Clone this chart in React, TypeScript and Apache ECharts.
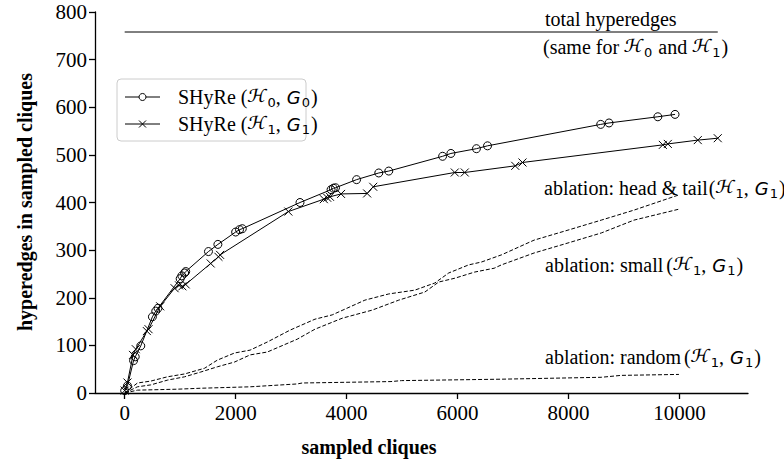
import React, { useEffect, useRef } from "react";
import * as echarts from "echarts";

// ---- data ----
const xTicks = [0, 2000, 4000, 6000, 8000, 10000];
const totalHyperedges = 758;
const totalLineX = [0, 10690];

const shyreH0: [number, number][] = [
  [0, 5], [50, 15], [160, 68], [190, 76], [290, 99], [500, 160], [560, 172], [600, 178],
  [1000, 240], [1030, 246], [1080, 252], [1100, 255], [1510, 297], [1680, 312], [2000, 338],
  [2070, 343], [2120, 345], [3160, 400], [3720, 427], [3760, 430], [3800, 431], [4180, 448],
  [4580, 462], [4760, 466], [5730, 497], [5880, 503], [6340, 513], [6540, 519], [8580, 564],
  [8730, 567], [9610, 580], [9920, 585],
];

const shyreH1: [number, number][] = [
  [0, 5], [50, 22], [150, 80], [200, 92], [400, 130], [430, 134], [640, 182], [900, 220],
  [980, 226], [1040, 224], [1100, 228], [1550, 272], [1690, 286], [1720, 290], [2950, 381],
  [3590, 407], [3650, 410], [3700, 412], [3900, 418], [4370, 419], [4480, 433], [5950, 463],
  [6130, 463], [7040, 477], [7170, 484], [9700, 521], [9790, 523], [10330, 531], [10690, 535],
];

const ablationHeadTail: [number, number][] = [
  [0, 0], [230, 21], [470, 25], [770, 34], [1080, 40], [1440, 52], [1670, 69], [1980, 84],
  [2260, 90], [2570, 107], [2980, 132], [3430, 155], [3740, 164], [4330, 195], [4760, 208],
  [5230, 216], [5590, 231], [5840, 252], [6200, 269], [6430, 275], [6790, 290], [7380, 321],
  [7990, 342], [8590, 363], [9180, 384], [9990, 416],
];

const ablationSmall: [number, number][] = [
  [0, 0], [230, 13], [470, 17], [770, 27], [1080, 34], [1370, 44], [1670, 55], [1980, 65],
  [2260, 80], [2570, 86], [3110, 113], [3430, 134], [3920, 157], [4460, 174], [4940, 195],
  [5410, 212], [5660, 233], [5950, 241], [6310, 254], [6660, 262], [6790, 269], [7380, 294],
  [7990, 315], [8590, 336], [9180, 363], [9990, 386],
];

const ablationRandom: [number, number][] = [
  [0, 0], [230, 6], [950, 8], [1370, 10], [2260, 13], [3110, 19], [3200, 21], [4800, 24],
  [4990, 26], [6790, 29], [8590, 33], [8950, 37], [9990, 39],
];

const F_TEXT = `20px 'Liberation Serif'`;
const F_CAL = `20px 'STIX Two Text'`;
const F_GI = `italic 18px 'DejaVu Sans'`;
const F_SUB = `13px 'DejaVu Sans'`;

type Seg = { t: string; f: string; dy?: number; gap?: number };

const T = (t: string, gap = 0): Seg => ({ t, f: F_TEXT, gap });
const H = (): Seg => ({ t: "ℋ", f: F_CAL });
const G = (): Seg => ({ t: "G", f: F_GI, gap: 1 });
const S = (d: string): Seg => ({ t: d, f: F_SUB, dy: 5, gap: 1 });

const pairH1G1 = (): Seg[] => [H(), S("1"), T(", "), G(), S("1"), T(")", 1)];

let measureCtx: CanvasRenderingContext2D | null = null;
function measure(text: string, font: string) {
  if (!measureCtx) measureCtx = document.createElement("canvas").getContext("2d");
  if (!measureCtx) return text.length * 9;
  measureCtx.font = font;
  return measureCtx.measureText(text).width;
}

function mathText(x: number, y: number, segs: Seg[]) {
  const out: any[] = [];
  let cx = x;
  for (const s of segs) {
    cx += s.gap || 0;
    out.push({
      type: "text",
      x: cx,
      y: y + (s.dy || 0),
      silent: true,
      style: { text: s.t, font: s.f, fill: "#000", textAlign: "left", textVerticalAlign: "middle" },
    });
    cx += measure(s.t, s.f);
  }
  return out;
}

function legendBlock() {
  const left = 117, top = 79, w = 189, h = 62;
  const rows = [
    { y: 97, kind: "circle", segs: [T("SHyRe ("), H(), S("0"), T(", "), G(), S("0"), T(")", 1)] },
    { y: 124, kind: "cross", segs: [T("SHyRe ("), H(), S("1"), T(", "), G(), S("1"), T(")", 1)] },
  ];
  const els: any[] = [
    {
      type: "rect",
      silent: true,
      shape: { x: left, y: top, width: w, height: h, r: 4 },
      style: { fill: "rgba(255,255,255,0.85)", stroke: "#cccccc", lineWidth: 1 },
    },
  ];
  for (const r of rows) {
    els.push({
      type: "line",
      silent: true,
      shape: { x1: 125, y1: r.y, x2: 160, y2: r.y },
      style: { stroke: "#000", lineWidth: 1 },
    });
    if (r.kind === "circle") {
      els.push({
        type: "circle",
        silent: true,
        shape: { cx: 142.5, cy: r.y, r: 3.5 },
        style: { fill: "#fff", stroke: "#000", lineWidth: 1 },
      });
    } else {
      els.push({
        type: "line", silent: true,
        shape: { x1: 139, y1: r.y - 3.5, x2: 146, y2: r.y + 3.5 },
        style: { stroke: "#000", lineWidth: 1 },
      });
      els.push({
        type: "line", silent: true,
        shape: { x1: 139, y1: r.y + 3.5, x2: 146, y2: r.y - 3.5 },
        style: { stroke: "#000", lineWidth: 1 },
      });
    }
    els.push(...mathText(178, r.y, r.segs));
  }
  return els;
}

export default function App() {
  const ref = useRef<HTMLDivElement>(null);
  useEffect(() => {
    document.body.style.margin = "0";
    if (!ref.current) return;
    const chart = echarts.init(ref.current, undefined, { renderer: "svg" });
    const crossPath = "path://M0,0L10,10M0,10L10,0";
    chart.setOption({
      animation: false,
      backgroundColor: "#fff",
      grid: { left: 95, right: 36, top: 12, bottom: 70, containLabel: false, outerBoundsMode: "none" },
      xAxis: {
        type: "value",
        min: -535,
        max: 11235,
        splitLine: { show: false },
        axisLine: { onZero: false, lineStyle: { color: "#000", width: 1.3 } },
        axisTick: { customValues: xTicks, length: 6, lineStyle: { color: "#000", width: 1.3 } },
        axisLabel: {
          customValues: xTicks,
          formatter: (v: number) => String(v),
          color: "#000",
          fontFamily: "Liberation Serif",
          fontSize: 21,
          margin: 9,
        },
      },
      yAxis: {
        type: "value",
        min: 0,
        max: 800,
        interval: 100,
        splitLine: { show: false },
        axisLine: { show: true, onZero: false, lineStyle: { color: "#000", width: 1.3 } },
        axisTick: { show: true, length: 6, lineStyle: { color: "#000", width: 1.3 } },
        axisLabel: {
          formatter: (v: number) => String(v),
          color: "#000",
          fontFamily: "Liberation Serif",
          fontSize: 21,
          margin: 8,
        },
      },
      graphic: [
        {
          type: "text",
          x: 25,
          y: 202,
          rotation: Math.PI / 2,
          silent: true,
          style: {
            text: "hyperedges in sampled cliques",
            font: `bold 20px 'Liberation Serif'`,
            fill: "#000",
            textAlign: "center",
            textVerticalAlign: "middle",
          },
        },
        {
          type: "text",
          x: 369,
          y: 447,
          silent: true,
          style: {
            text: "sampled cliques",
            font: `bold 20px 'Liberation Serif'`,
            fill: "#000",
            textAlign: "center",
            textVerticalAlign: "middle",
          },
        },
        ...mathText(545, 19, [T("total hyperedges")]),
        ...mathText(543, 47, [T("(same for "), H(), S("0"), T(" and ", 1), H(), S("1"), T(")", 1)]),
        ...mathText(544, 188, [T("ablation: head & tail"), T("(", 1), ...pairH1G1()]),
        ...mathText(545, 265, [T("ablation: small"), T("(", 3), ...pairH1G1()]),
        ...mathText(545, 357, [T("ablation: random"), T("(", 3), ...pairH1G1()]),
        ...legendBlock(),
      ],
      series: [
        {
          name: "total",
          type: "line",
          data: totalLineX.map((x) => [x, totalHyperedges]),
          showSymbol: false,
          symbol: "none",
          lineStyle: { color: "#000", width: 1 },
          silent: true,
        },
        {
          name: "ablation-headtail",
          type: "line",
          data: ablationHeadTail,
          symbol: "none",
          lineStyle: { color: "#000", width: 1, type: [4, 2] },
          silent: true,
        },
        {
          name: "ablation-small",
          type: "line",
          data: ablationSmall,
          symbol: "none",
          lineStyle: { color: "#000", width: 1, type: [4, 2] },
          silent: true,
        },
        {
          name: "ablation-random",
          type: "line",
          data: ablationRandom,
          symbol: "none",
          lineStyle: { color: "#000", width: 1, type: [4, 2] },
          silent: true,
        },
        {
          name: "SHyRe (H0, G0)",
          type: "line",
          data: shyreH0,
          symbol: "circle",
          symbolSize: 8,
          showAllSymbol: true,
          itemStyle: { color: "none", borderColor: "#000", borderWidth: 1 },
          lineStyle: { color: "#000", width: 1 },
          z: 5,
        },
        {
          name: "SHyRe (H1, G1)",
          type: "line",
          data: shyreH1,
          symbol: crossPath,
          symbolSize: 8,
          showAllSymbol: true,
          itemStyle: { color: "#000", borderColor: "#000", borderWidth: 1 },
          lineStyle: { color: "#000", width: 1 },
          z: 5,
        },
      ],
    });
    return () => chart.dispose();
  }, []);
  return <div ref={ref} style={{ width: 784, height: 463 }} />;
}
